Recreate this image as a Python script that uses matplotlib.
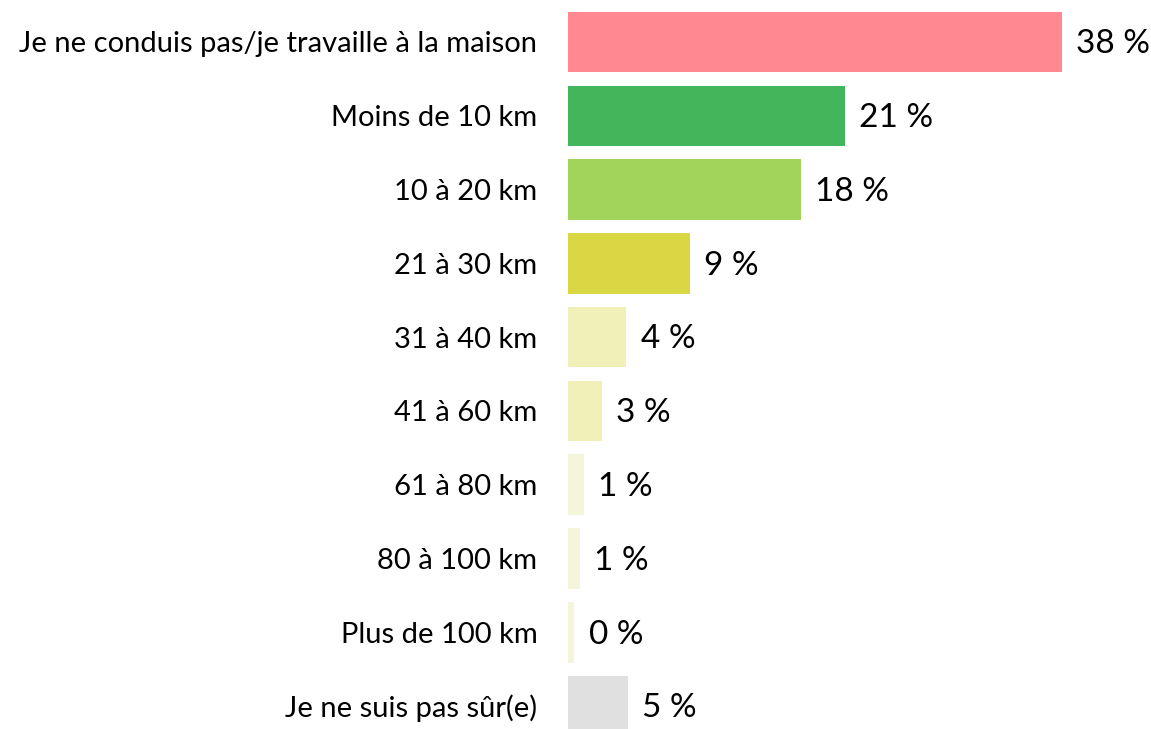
import matplotlib.pyplot as plt

# categories and values (bar lengths, labels as shown)
categories = ['Je ne conduis pas/je travaille à la maison', 'Moins de 10 km', '10 à 20 km',
              '21 à 30 km', '31 à 40 km', '41 à 60 km', '61 à 80 km', '80 à 100 km',
              'Plus de 100 km', 'Je ne suis pas sûr(e)']
values = [38.0, 21.3, 17.9, 9.4, 4.5, 2.6, 1.2, 0.9, 0.5, 4.6]
labels = ['38 %', '21 %', '18 %', '9 %', '4 %', '3 %', '1 %', '1 %', '0 %', '5 %']
colors = ['#FF8891', '#43B55B', '#A2D35A', '#D9D744', '#F1F0B8', '#F1F0B8',
          '#F5F5DC', '#F5F5DC', '#F5F5DC', '#E0E0E0']

plt.rcParams['font.family'] = ['Lato', 'DejaVu Sans']

fig = plt.figure(figsize=(11.51, 7.29), dpi=100)
ax = fig.add_axes([568 / 1151, 0, 1 - 568 / 1151, 1])

ypos = list(range(len(categories)))
ax.barh(ypos, values, height=0.82, color=colors)

for y, v, lab in zip(ypos, values, labels):
    ax.text(v + 1.1, y + 0.03, lab, va='center', ha='left', fontsize=24, color='black')

ax.set_xlim(0, 583 / 12.99)
ax.set_ylim(9.31, -0.569)
ax.set_yticks(ypos)
ax.set_yticklabels(categories, fontsize=21)
ax.tick_params(axis='y', length=0, pad=22)
ax.set_xticks([])
for s in ax.spines.values():
    s.set_visible(False)

fig.savefig('out.png', dpi=100)
